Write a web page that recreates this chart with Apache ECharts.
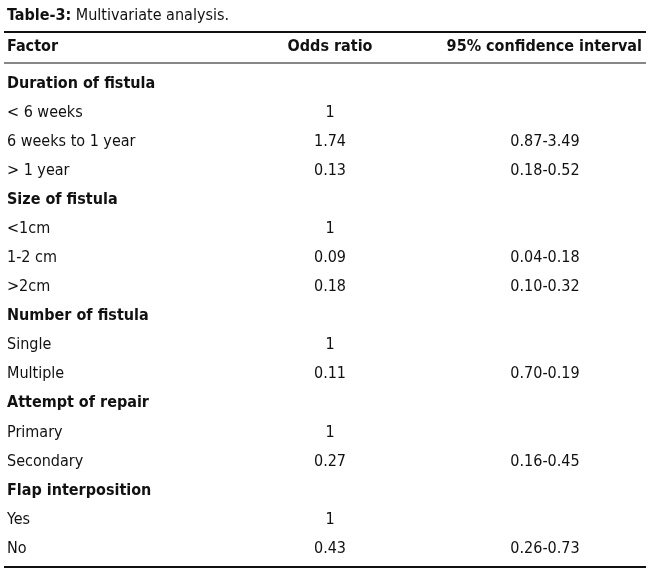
<!DOCTYPE html>
<html>
<head>
<meta charset="utf-8">
<script src="https://cdn.jsdelivr.net/npm/echarts@6/dist/echarts.min.js"></script>
<style>html,body{margin:0;padding:0;background:#fff}#main{width:650px;height:583px}</style>
</head>
<body>
<div id="main"></div>
<script>
// ============================= 数据 =============================
const headers = ['Factor', 'Odds ratio', '95% confidence interval'];
const factors = ['Duration of fistula', '< 6 weeks', '6 weeks to 1 year', '> 1 year',
    'Size of fistula', '<1cm', '1-2 cm', '>2cm',
    'Number of fistula', 'Single', 'Multiple',
    'Attempt of repair', 'Primary', 'Secondary',
    'Flap interposition', 'Yes', 'No'];
const isGroup = [true, false, false, false, true, false, false, false, true, false, false, true, false, false, true, false, false];
const oddsRatios = ['', '1', '1.74', '0.13', '', '1', '0.09', '0.18', '', '1', '0.11', '', '1', '0.27', '', '1', '0.43'];
const confInts = ['', '', '0.87-3.49', '0.18-0.52', '', '', '0.04-0.18', '0.10-0.32', '', '', '0.70-0.19', '', '', '0.16-0.45', '', '', '0.26-0.73'];

// ============================= 样式 =============================
const font = '"Liberation Sans Narrow", "DejaVu Sans Condensed", "Noto Sans", sans-serif';
const rowTop = 84, rowH = 29.03;

function txt(x, y, s, align, bold) {
    return {
        type: 'text', x: x, y: y,
        style: {
            text: s, fill: '#111', font: (bold ? 'bold ' : '') + '16px ' + font,
            align: align || 'left', verticalAlign: 'middle'
        }
    };
}
function line(y, w) {
    return { type: 'line', shape: { x1: 4, y1: y, x2: 646, y2: y }, style: { stroke: '#111', lineWidth: w } };
}

let els = [];
els.push({
    type: 'text', x: 7, y: 16,
    style: {
        text: '{b|Table-3:} Multivariate analysis.',
        font: '16px ' + font, fill: '#111', verticalAlign: 'middle',
        rich: { b: { fontWeight: 'bold', fontSize: 16, fontFamily: font } }
    }
});
els.push(line(32, 2));
els.push(txt(7, 47, headers[0], 'left', true));
els.push(txt(330, 47, headers[1], 'center', true));
els.push(txt(642, 47, headers[2], 'right', true));
els.push(line(63, 1));
factors.forEach(function (f, i) {
    const y = rowTop + i * rowH;
    els.push(txt(7, y, f, 'left', isGroup[i]));
    if (oddsRatios[i]) els.push(txt(330, y, oddsRatios[i], 'center'));
    if (confInts[i]) els.push(txt(545, y, confInts[i], 'center'));
});
els.push(line(567, 2));

let option = { animation: false, backgroundColor: '#fff', graphic: { elements: els } };
echarts.init(document.getElementById('main')).setOption(option);
</script>
</body>
</html>
